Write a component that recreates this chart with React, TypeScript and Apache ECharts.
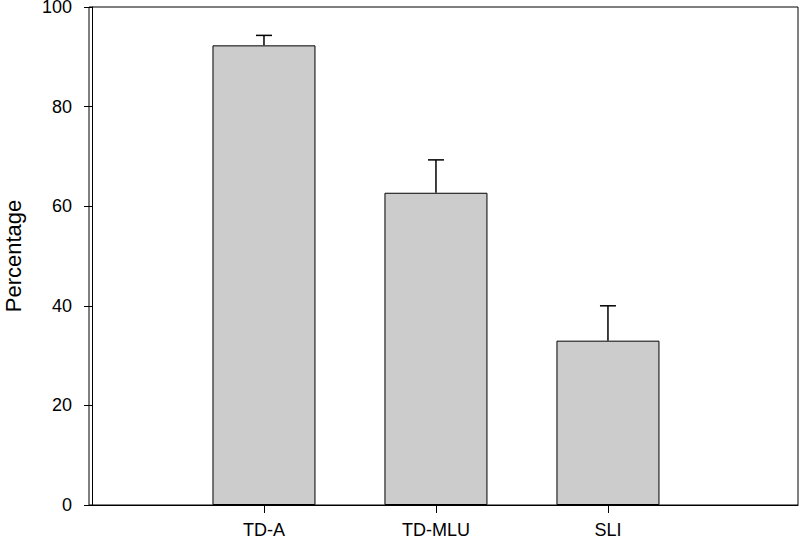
import React, { useEffect, useRef } from "react";
import * as echarts from "echarts";

const categories = ["TD-A", "TD-MLU", "SLI"];
const positions = [1, 2, 3];
const means = [92.3, 62.7, 33.0];
const errors = [2.0, 6.6, 7.0];
const yTicks = [0, 20, 40, 60, 80, 100];

export default function App() {
  const ref = useRef<HTMLDivElement>(null);
  useEffect(() => {
    const chart = echarts.init(ref.current!, null, { renderer: "svg" });
    const font = "Liberation Sans, Arial, sans-serif";
    chart.setOption({
      animation: false,
      grid: {
        left: 89,
        right: 2,
        top: 7,
        bottom: 36,
        outerBoundsMode: "none",
        containLabel: false,
        show: true,
        borderColor: "#000",
        borderWidth: 1,
        backgroundColor: "transparent",
      },
      xAxis: {
        type: "value",
        min: -0.0174,
        max: 4.105,
        splitLine: { show: false },
        axisLine: { show: true, lineStyle: { color: "#000", width: 1 } },
        axisTick: {
          show: true,
          inside: false,
          length: 8,
          customValues: positions,
          lineStyle: { color: "#000", width: 1 },
        },
        axisLabel: {
          customValues: positions,
          formatter: (v: number) => {
            const i = positions.indexOf(Math.round(v));
            return i >= 0 ? categories[i] : "";
          },
          color: "#000",
          fontSize: 18,
          fontFamily: font,
          margin: 16,
        },
      },
      yAxis: {
        type: "value",
        min: 0,
        max: 100,
        interval: 20,
        name: "Percentage",
        nameLocation: "middle",
        nameGap: 65,
        nameTextStyle: { color: "#000", fontSize: 22, fontFamily: font },
        splitLine: { show: false },
        axisLine: { show: true, lineStyle: { color: "#000", width: 1 } },
        axisTick: { show: true, inside: false, length: 8, lineStyle: { color: "#000", width: 1 } },
        axisLabel: {
          color: "#000",
          fontSize: 18,
          lineHeight: 16,
          fontFamily: font,
          margin: 17,
          customValues: yTicks,
        },
      },
      series: [
        {
          type: "bar",
          data: positions.map((p, i) => [p, means[i]]),
          barWidth: 103,
          itemStyle: { color: "#cccccc", borderColor: "#000", borderWidth: 1 },
          z: 2,
        },
        {
          type: "custom",
          data: positions.map((p, i) => [p, means[i], means[i] + errors[i]]),
          z: 3,
          renderItem: (params: any, api: any) => {
            const x = api.value(0);
            const lo = api.coord([x, api.value(1)]);
            const hi = api.coord([x, api.value(2)]);
            const hw = 8;
            return {
              type: "group",
              children: [
                {
                  type: "line",
                  shape: { x1: lo[0], y1: lo[1], x2: hi[0], y2: hi[1] },
                  style: { stroke: "#000", lineWidth: 1.5 },
                },
                {
                  type: "line",
                  shape: { x1: hi[0] - hw, y1: hi[1], x2: hi[0] + hw, y2: hi[1] },
                  style: { stroke: "#000", lineWidth: 1.5 },
                },
              ],
            };
          },
        },
      ],
    });
    return () => chart.dispose();
  }, []);
  return <div ref={ref} style={{ width: 800, height: 541, position: "absolute", left: 0, top: 0 }} />;
}
